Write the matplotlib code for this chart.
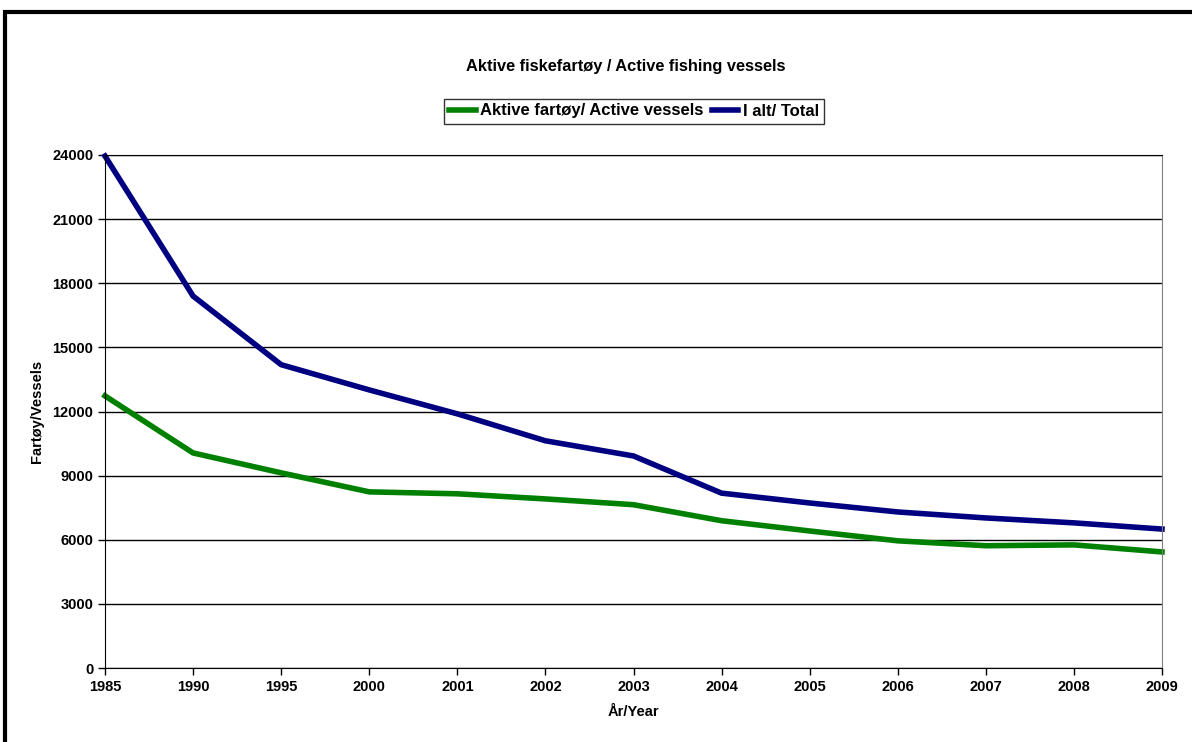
import matplotlib
matplotlib.use('Agg')
import matplotlib.pyplot as plt
from matplotlib.patches import Rectangle

plt.rcParams['font.family'] = ['Liberation Sans', 'DejaVu Sans']
plt.rcParams['font.weight'] = 'bold'

years = ['1985', '1990', '1995', '2000', '2001', '2002', '2003',
         '2004', '2005', '2006', '2007', '2008', '2009']
active = [12730, 10060, 9130, 8240, 8150, 7910, 7640,
          6890, 6410, 5950, 5720, 5760, 5430]
total = [23950, 17400, 14190, 13010, 11890, 10630, 9920,
         8180, 7720, 7300, 7020, 6790, 6500]
yticks = [0, 3000, 6000, 9000, 12000, 15000, 18000, 21000, 24000]

fig = plt.figure(figsize=(11.92, 7.42), dpi=100)
# outer chart frame (partly cut off at right and bottom like the reference)
fig.patches.append(Rectangle((5 / 1192, -0.05), 1.2, 1 - 12 / 742 + 0.05,
                             transform=fig.transFigure, fill=False,
                             edgecolor='black', linewidth=3, zorder=0))

ax = fig.add_axes([105 / 1192, 1 - 668 / 742, (1162 - 105) / 1192, (668 - 155) / 742])
x = range(len(years))
ax.plot(x, active, color='#008000', linewidth=4, label='Aktive fartøy/ Active vessels',
        solid_joinstyle='miter', clip_on=False)
ax.plot(x, total, color='#000080', linewidth=4, label='I alt/ Total',
        solid_joinstyle='miter', clip_on=False)

ax.set_xlim(0, len(years) - 1)
ax.set_ylim(0, 24000)
ax.set_xticks(list(x))
ax.set_xticklabels(years)
ax.set_yticks(yticks)
ax.set_yticklabels([str(v) for v in yticks])
ax.grid(axis='y', color='black', linewidth=1)
ax.set_axisbelow(True)
ax.spines['right'].set_color('#808080')
for side in ['left', 'bottom', 'top']:
    ax.spines[side].set_color('black')
ax.tick_params(direction='out', length=5, labelsize=10.5, width=1, color='black')
for lab in ax.get_xticklabels() + ax.get_yticklabels():
    lab.set_fontweight('bold')

ax.set_xlabel('År/Year', fontsize=10.5, fontweight='bold', labelpad=8)
ax.set_ylabel('Fartøy/Vessels', fontsize=10.5, fontweight='bold', labelpad=6)

fig.text(626 / 1192, 1 - 66 / 742, 'Aktive fiskefartøy / Active fishing vessels',
         ha='center', va='center', fontsize=11.8, fontweight='bold')

leg = fig.legend(loc='center', bbox_to_anchor=(634 / 1192, 1 - 111 / 742), ncol=2,
                 frameon=True, fancybox=False, edgecolor='black', fontsize=12,
                 handlelength=1.6, handletextpad=0.25, columnspacing=0.5,
                 borderpad=0.3, borderaxespad=0)
leg.get_frame().set_linewidth(1)
for t in leg.get_texts():
    t.set_fontweight('bold')

fig.savefig('out.png', dpi=100)
